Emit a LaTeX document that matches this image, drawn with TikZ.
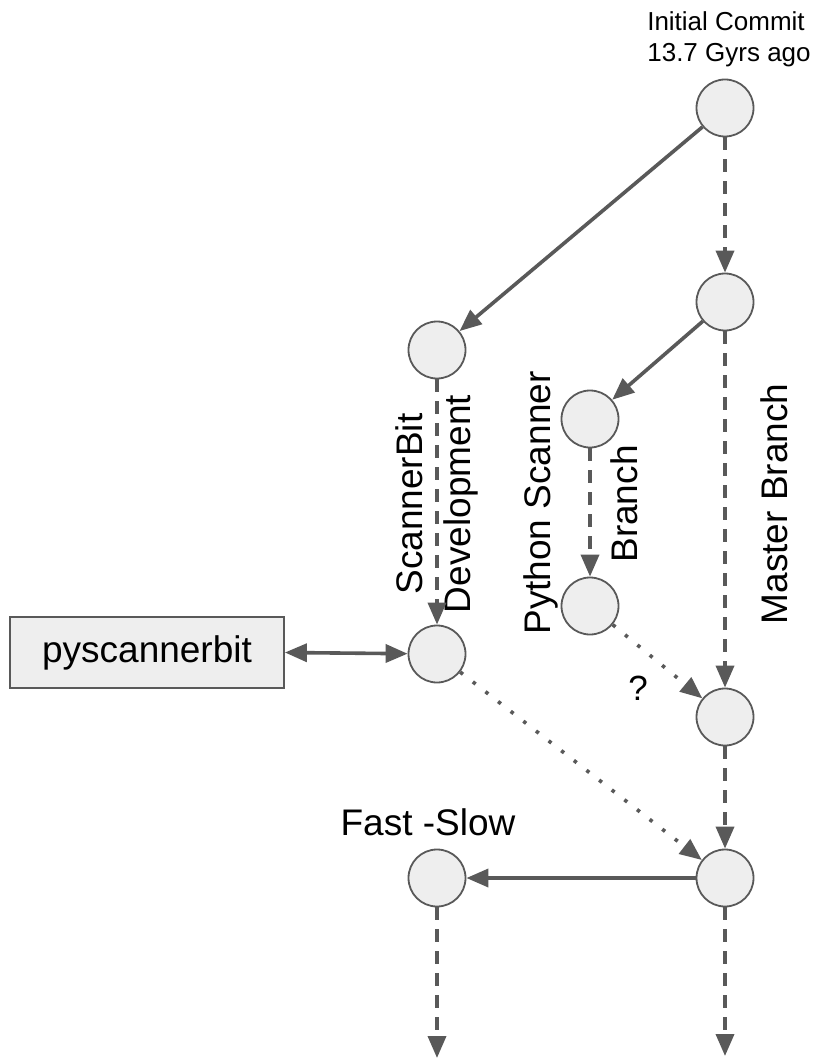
\documentclass[tikz,border=0pt]{standalone}
\usepackage{fontspec}
\setmainfont{Liberation Sans}
\usetikzlibrary{arrows.meta}
\definecolor{edgecol}{HTML}{595959}
\definecolor{nodefill}{HTML}{EEEEEE}
\begin{document}
\begin{tikzpicture}[x=1pt,y=-1pt,
  commit/.style={circle, draw=edgecol, fill=nodefill, line width=1.8pt, minimum size=57pt, inner sep=0pt},
  conn/.style={draw=edgecol, line width=3.6pt, -{Triangle[length=22pt,width=18pt]}},
  dashconn/.style={conn, dash pattern=on 13pt off 9pt},
  dotconn/.style={conn, dash pattern=on 3.5pt off 12.5pt},
  biconn/.style={draw=edgecol, line width=3.6pt, {Triangle[length=22pt,width=18pt]}-{Triangle[length=22pt,width=18pt]}},
  lbl/.style={inner sep=0pt, anchor=base, font=\fontsize{37}{40}\selectfont},
  rlbl/.style={lbl, rotate=90},
  small/.style={inner sep=0pt, anchor=base, font=\fontsize{26}{31}\selectfont},
  boxnode/.style={draw=edgecol, fill=nodefill, line width=1.8pt, minimum width=274pt, minimum height=71pt, inner sep=0pt, font=\fontsize{37}{40}\selectfont}
]
\useasboundingbox (0,0) rectangle (815,1064);
\fill[white] (0,0) rectangle (815,1064);

% commits
\node[commit] (A) at (725,108) {};
\node[commit] (B) at (725,302) {};
\node[commit] (C) at (437,350) {};
\node[commit] (D) at (590,419) {};
\node[commit] (E) at (590,606) {};
\node[commit] (F) at (437,654) {};
\node[commit] (G) at (725,717) {};
\node[commit] (H) at (725,878) {};
\node[commit] (I) at (437,878) {};
\node[boxnode] (P) at (147,652.5) {pyscannerbit};

\coordinate (Iend) at (437,1058);
\coordinate (Hend) at (725,1056);

% labels
\node[small] (t1) at (726,31) {Initial Commit};
\node[small] (t2) at (729,62) {13.7 Gyrs ago};
\node[rlbl] (s1) at (422,504) {ScannerBit};
\node[rlbl] (s2) at (470,504) {Development};
\node[rlbl] (p1) at (550,503) {Python Scanner};
\node[rlbl] (p2) at (637,504) {Branch};
\node[rlbl] (m1) at (787,504) {Master Branch};
\node[lbl] (fs) at (428,835) {Fast -Slow};
\node[lbl, font=\fontsize{35}{38}\selectfont] (q) at (638,700) {?};

% connectors
\draw[conn] (A) -- (C);
\draw[dashconn] (A) -- (B);
\draw[conn] (B) -- (D);
\draw[dashconn] (B) -- (G);
\draw[dashconn] (C) -- (F);
\draw[dashconn] (D) -- (E);
\draw[dotconn] (E) -- (G);
\draw[dotconn] (F) -- (H);
\draw[biconn] (P.east) -- (F);
\draw[dashconn] (G) -- (H);
\draw[conn] (H) -- (I);
\draw[dashconn] (I) -- (Iend);
\draw[dashconn] (H) -- (Hend);
\end{tikzpicture}
\end{document}
